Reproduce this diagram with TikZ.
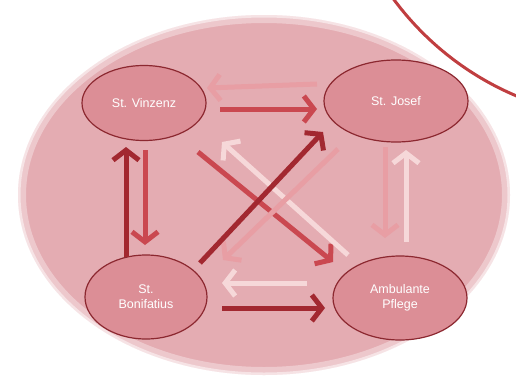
\documentclass[tikz,border=0pt]{standalone}
\usepackage{fontspec}
\setmainfont{Liberation Sans}
\usetikzlibrary{arrows.meta,shapes.geometric}
\definecolor{bgpink}{RGB}{228,172,178}
\definecolor{nodepink}{RGB}{220,142,150}
\definecolor{rimred}{RGB}{140,40,48}
\definecolor{arcred}{RGB}{192,62,64}
\definecolor{darkred}{RGB}{162,40,48}
\definecolor{midred}{RGB}{202,72,80}
\definecolor{lightpink}{RGB}{232,158,164}
\definecolor{palepink}{RGB}{246,216,217}
\tikzset{
  house/.style={draw=rimred, line width=1.2pt, fill=nodepink, ellipse,
    text=white, align=center, font=\fontsize{12.5}{15}\selectfont},
  flow/.style={line width=5pt, -{Straight Barb[length=10pt,width=26pt]}},
}
\begin{document}
\begin{tikzpicture}[x=1pt,y=1pt]
\useasboundingbox (0,0) rectangle (516,-388);
\tikzstyle{every node}+=[inner sep=0pt]
% background
\fill [bgpink] (264,-195) ellipse (246 and 180);
\draw [white, opacity=0.35, line width=8pt] (264,-195) ellipse (242 and 176);
\draw [white, opacity=0.5, line width=3pt] (264,-195) ellipse (245 and 179);
\begin{scope}
\clip (0,0) rectangle (516,-388);
\draw [arcred, fill=white, line width=3pt] (631,176) circle (295);
\end{scope}
% houses
\draw (144,-103) node [house, minimum width=124, minimum height=75] (vin) {St. Vinzenz};
\draw (396,-101) node [house, minimum width=144, minimum height=82] (jos) {St. Josef};
\draw (146,-297) node [house, minimum width=122, minimum height=84] (bon) {St.\\Bonifatius};
\draw (400,-298) node [house, minimum width=134, minimum height=84] (amb) {Ambulante\\Pflege};
% arrows
\draw [flow, lightpink] ([shift={(-79,17)}]jos.center) -- ([shift={(63,15)}]vin.center);
\draw [flow, midred] ([shift={(76,-6)}]vin.center) -- ([shift={(-79,-8)}]jos.center);
\draw [flow, darkred] ([shift={(-20,40)}]bon.center) -- ([shift={(-18,-44)}]vin.center);
\draw [flow, midred] ([shift={(1,-47)}]vin.center) -- ([shift={(-1,52)}]bon.center);
\draw [flow, midred] ([shift={(54,-49)}]vin.center) -- ([shift={(-67,36)}]amb.center);
\draw [flow, palepink] ([shift={(-52,43)}]amb.center) -- ([shift={(78,-39)}]vin.center);
\draw [flow, lightpink] ([shift={(-58,-48)}]jos.center) -- ([shift={(77,37)}]bon.center);
\draw [flow, darkred] ([shift={(54,34)}]bon.center) -- ([shift={(-73,-31)}]jos.center);
\draw [flow, lightpink] ([shift={(-11,-46)}]jos.center) -- ([shift={(-15,60)}]amb.center);
\draw [flow, palepink] ([shift={(6,56)}]amb.center) -- ([shift={(10,-49)}]jos.center);
\draw [flow, palepink] ([shift={(-93,15)}]amb.center) -- ([shift={(76,14)}]bon.center);
\draw [flow, darkred] ([shift={(76,-11)}]bon.center) -- ([shift={(-75,-10)}]amb.center);
\end{tikzpicture}
\end{document}
